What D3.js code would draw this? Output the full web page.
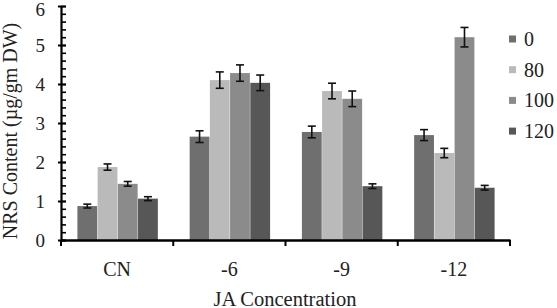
<!DOCTYPE html>
<html>
<head>
<meta charset="utf-8">
<script src="https://cdn.jsdelivr.net/npm/d3@7"></script>
</head>
<body style="margin:0; background:#fff">
<script>
// NRS content by JA concentration, four treatment series
const categories = ["CN", "-6", "-9", "-12"];
const seriesNames = ["0", "80", "100", "120"];
const values = [
  [0.87, 2.65, 2.77, 2.69],   // 0
  [1.87, 4.10, 3.82, 2.23],   // 80
  [1.44, 4.28, 3.62, 5.20],   // 100
  [1.06, 4.03, 1.38, 1.34]    // 120
];
const errors = [
  [0.05, 0.15, 0.15, 0.14],
  [0.08, 0.21, 0.20, 0.12],
  [0.06, 0.21, 0.20, 0.25],
  [0.05, 0.20, 0.06, 0.06]
];
const yTicks = [0, 1, 2, 3, 4, 5, 6];

const width = 557, height = 308;
const colors = ["#6f6f6f", "#bababa", "#8b8b8b", "#575757"];
const serif = '"Times New Roman", "Liberation Serif", Tinos';

const svg = d3.select("body").append("svg")
  .attr("width", width)
  .attr("height", height)
  .attr("font-family", serif)
  .style("display", "block");

const x0 = d3.scaleBand().domain(categories).range([61, 510]).paddingInner(0).paddingOuter(0);
const x1 = d3.scaleBand().domain(seriesNames).range([16, x0.bandwidth() - 15]).padding(0.02);
const y = d3.scaleLinear().domain([0, 6]).range([240, 6]);

const rows = [];
categories.forEach((c, ci) => {
  seriesNames.forEach((s, si) => {
    rows.push({ cat: c, series: s, si, value: values[si][ci], err: errors[si][ci] });
  });
});

// bars
svg.append("g")
  .selectAll("rect")
  .data(rows)
  .join("rect")
  .attr("x", d => x0(d.cat) + x1(d.series))
  .attr("y", d => y(d.value))
  .attr("width", x1.bandwidth())
  .attr("height", d => y(0) - y(d.value))
  .attr("fill", d => colors[d.si]);

// error bars
const eb = svg.append("g").attr("stroke", "#111").attr("stroke-width", 1.6);
const cx = d => x0(d.cat) + x1(d.series) + x1.bandwidth() / 2;
eb.selectAll("line.v").data(rows).join("line").attr("class", "v")
  .attr("x1", cx).attr("x2", cx)
  .attr("y1", d => y(d.value + d.err)).attr("y2", d => y(d.value - d.err));
eb.selectAll("line.t").data(rows).join("line").attr("class", "t")
  .attr("x1", d => cx(d) - 4).attr("x2", d => cx(d) + 4)
  .attr("y1", d => y(d.value + d.err)).attr("y2", d => y(d.value + d.err));
eb.selectAll("line.b").data(rows).join("line").attr("class", "b")
  .attr("x1", d => cx(d) - 4).attr("x2", d => cx(d) + 4)
  .attr("y1", d => y(d.value - d.err)).attr("y2", d => y(d.value - d.err));

// y axis: minor ticks inside, major ticks crossing
const yAxis = svg.append("g").attr("transform", "translate(61,0)");
yAxis.call(d3.axisRight(y).ticks(30).tickSize(5).tickFormat(""))
  .call(g => g.select(".domain").remove())
  .selectAll("line").attr("stroke", "#000").attr("stroke-width", 1.6);
const yMajor = svg.append("g").attr("transform", "translate(61,0)");
yMajor.call(d3.axisLeft(y).tickValues(yTicks).tickSize(0).tickPadding(16).tickFormat(d3.format("d")))
  .attr("font-family", serif)
  .call(g => g.select(".domain").attr("stroke", "#000").attr("stroke-width", 2.2))
  .selectAll("text").attr("font-size", 19).attr("fill", "#222").style("font-family", serif);
yMajor.selectAll(".tick").append("line")
  .attr("x1", -3).attr("x2", 5).attr("stroke", "#000").attr("stroke-width", 2);
yMajor.selectAll(".tick text").filter(d => d === 6).attr("dy", "0.5em");

// x axis
const xAxis = svg.append("g").attr("transform", "translate(0,240)");
xAxis.call(d3.axisBottom(x0).tickSize(0).tickPadding(22))
  .attr("font-family", serif)
  .call(g => g.select(".domain").attr("stroke", "#000").attr("stroke-width", 2.4))
  .selectAll("text").attr("font-size", 20).attr("fill", "#222").style("font-family", serif);
xAxis.append("g").selectAll("line")
  .data(categories.map(c => x0(c)).concat([x0.range()[1]]))
  .join("line")
  .attr("x1", d => d).attr("x2", d => d)
  .attr("y1", 0).attr("y2", 6)
  .attr("stroke", "#000").attr("stroke-width", 2);

// axis titles
svg.append("text")
  .attr("x", 285).attr("y", 306)
  .attr("text-anchor", "middle")
  .attr("font-size", 20.5).attr("fill", "#222")
  .style("font-family", serif)
  .text("JA Concentration");
svg.append("text")
  .attr("transform", "translate(17,131) rotate(-90)")
  .attr("text-anchor", "middle")
  .attr("font-size", 20).attr("fill", "#222")
  .style("font-family", serif)
  .text("NRS Content (µg/gm DW)");

// legend
const legend = svg.append("g")
  .selectAll("g")
  .data(seriesNames)
  .join("g")
  .attr("transform", (d, i) => `translate(509,${39 + i * 30.7})`);
legend.append("rect")
  .attr("x", 0).attr("y", -3.5).attr("width", 7).attr("height", 7)
  .attr("fill", (d, i) => colors[i]);
legend.append("text")
  .attr("x", 15).attr("y", 7)
  .attr("font-size", 20).attr("fill", "#222")
  .style("font-family", serif)
  .text(d => d);
</script>
</body>
</html>
